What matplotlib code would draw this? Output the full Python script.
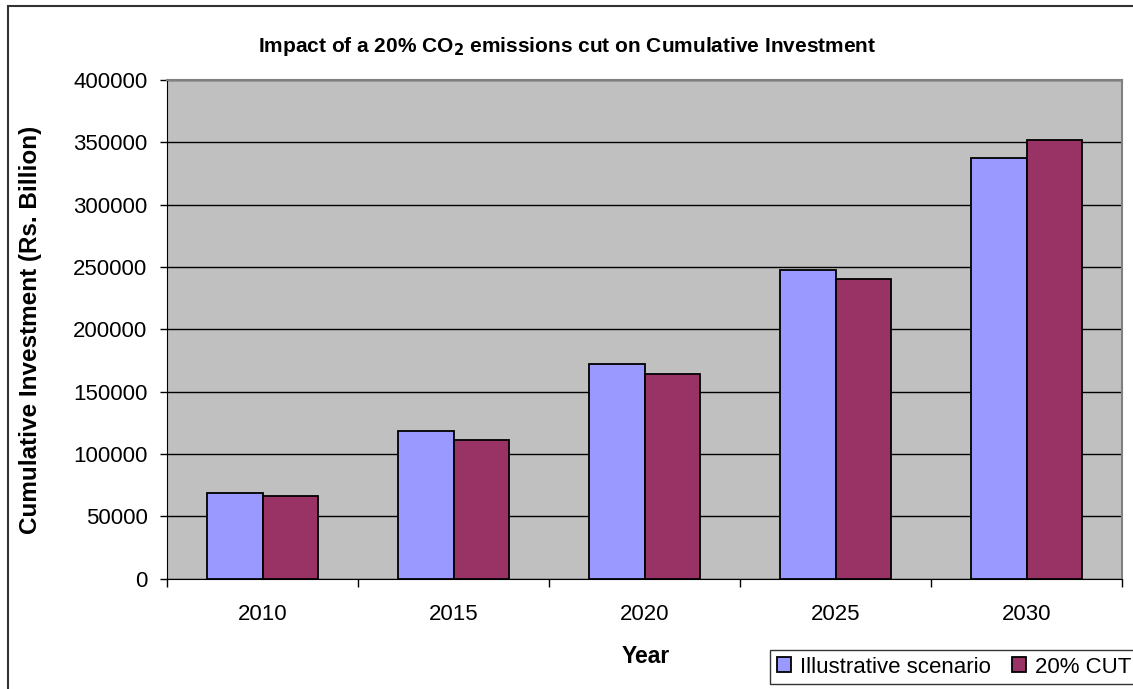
import matplotlib.pyplot as plt
import numpy as np
from matplotlib.patches import Rectangle

years = ["2010", "2015", "2020", "2025", "2030"]
illustrative = [68500, 118500, 172000, 247500, 337500]
cut20 = [66500, 111500, 164500, 240500, 352000]

plt.rcParams['font.family'] = ['Liberation Sans', 'DejaVu Sans']

fig = plt.figure(figsize=(11.33, 6.89), dpi=100)
ax = fig.add_axes([0.1474, 0.16, 0.843, 0.7239])
ax.set_facecolor("#C0C0C0")

x = np.arange(len(years))
w = 0.29
ax.bar(x - w / 2, illustrative, w, color="#9999FF", edgecolor="black", linewidth=1.3,
       label="Illustrative scenario", zorder=3)
ax.bar(x + w / 2, cut20, w, color="#993366", edgecolor="black", linewidth=1.3,
       label="20% CUT", zorder=3)

ax.set_xlim(-0.5, 4.5)
ax.set_ylim(0, 400000)
ax.set_yticks(np.arange(0, 400001, 50000))
ax.yaxis.grid(True, color="black", linewidth=1, zorder=1)
ax.set_axisbelow(True)

ax.set_xticks(x)
ax.set_xticklabels(years)
ax.set_xticks(np.arange(-0.5, 5, 1), minor=True)
ax.tick_params(axis="x", which="major", length=0, pad=18, labelsize=16)
ax.tick_params(axis="x", which="minor", length=6, width=1)
ax.tick_params(axis="y", length=5, width=1, labelsize=16, pad=9)

for s in ["top", "right"]:
    ax.spines[s].set_color("#808080")
    ax.spines[s].set_linewidth(1.5)
ax.spines["left"].set_color("black")
ax.spines["bottom"].set_color("black")

ax.set_xlabel("Year", fontsize=16.5, fontweight="bold")
ax.xaxis.set_label_coords(0.5016, -0.155)
ax.xaxis.label.set_va("center")
ax.set_ylabel("Cumulative Investment (Rs. Billion)", fontsize=17.5, fontweight="bold")
ax.yaxis.set_label_coords(-0.143, 0.5)
ax.yaxis.label.set_va("center")

fig.text(0.5005, 0.933, "Impact of a 20% CO$_\\mathbf{2}$ emissions cut on Cumulative Investment",
         ha="center", va="center", fontsize=15, fontweight="bold")

leg = fig.legend(loc="upper left", bbox_to_anchor=(0.6796, 0.0566), ncol=2, fontsize=16,
                 frameon=True, fancybox=False, edgecolor="black", handlelength=0.65,
                 handleheight=0.65, handletextpad=0.4, columnspacing=0.95, borderpad=0.3,
                 borderaxespad=0)
leg.get_frame().set_linewidth(1)

fig.patches.append(Rectangle((0.007, -0.05), 1.0, 1.0406, transform=fig.transFigure,
                             fill=False, edgecolor="#333333", linewidth=1.5))

fig.savefig("out.png", dpi=100)
